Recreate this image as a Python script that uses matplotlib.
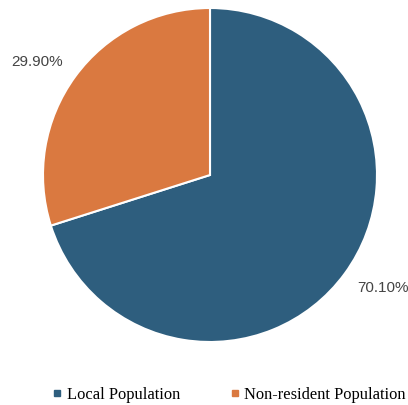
import numpy as np
import matplotlib.pyplot as plt
from matplotlib.lines import Line2D

labels = ['Local Population', 'Non-resident Population']
shares = [70.10, 29.90]
colors = ['#2e5e7e', '#da7940']

fig = plt.figure(figsize=(4.08, 4.05), dpi=100)
ax = fig.add_axes([43 / 408, 63 / 405, 334 / 408, 334 / 405])

wedges, texts = ax.pie(shares, colors=colors, startangle=90, counterclock=False,
                       radius=1, labels=['%.2f%%' % s for s in shares],
                       labeldistance=1.24,
                       wedgeprops=dict(edgecolor='white', linewidth=1.5))
# nudge labels a bit, like the original
for w, t in zip(wedges, texts):
    ang = np.deg2rad((w.theta1 + w.theta2) / 2 + 3)
    t.set_position((1.235 * np.cos(ang), 1.24 * np.sin(ang)))
    t.set_ha('center')
    t.set_va('center')
    t.set_fontsize(11)
    t.set_color('#444444')
    t.set_family('Liberation Sans')
ax.set_xlim(-1, 1)
ax.set_ylim(-1, 1)
ax.set_aspect('equal')

handles = [Line2D([], [], marker='s', linestyle='none', markersize=4.5,
                  markerfacecolor=c, markeredgecolor=c) for c in colors]
fig.legend(handles, labels, loc='center', bbox_to_anchor=(0.559, 1 - 395 / 405),
           ncol=2, frameon=False, handletextpad=0.2, columnspacing=2.9,
           handlelength=0.8, prop={'family': 'Liberation Serif', 'size': 11.9})

fig.savefig('out.png', dpi=100)
